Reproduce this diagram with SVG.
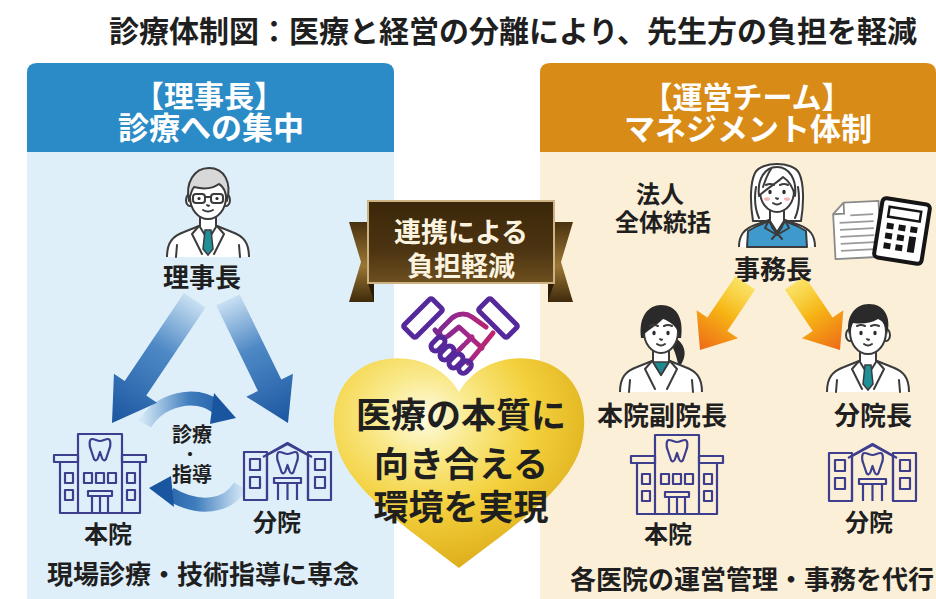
<svg xmlns="http://www.w3.org/2000/svg" width="936" height="599" viewBox="0 0 936 599">
<defs>
<style>
.t{font-family:"Noto Sans CJK JP","Noto Sans CJK SC",sans-serif;font-weight:700;text-anchor:middle;dominant-baseline:central;fill:#1f1f1f}
.w{fill:#ffffff}
.rb{fill:#fbf3df}
.ln{fill:none;stroke:#3b3b3b;stroke-width:2;stroke-linecap:round;stroke-linejoin:round}
.wf{fill:#ffffff;stroke:#3b3b3b;stroke-width:2;stroke-linejoin:round}
.bld{fill:none;stroke:#3d3f8e;stroke-width:2.2;stroke-linejoin:round}
.eye{fill:#2b2b2b}
</style>
<linearGradient id="blueArrow" x1="0" y1="0" x2="0" y2="1">
<stop offset="0" stop-color="#2a6fb8" stop-opacity="0.12"/>
<stop offset="0.4" stop-color="#2a6fb8" stop-opacity="0.8"/>
<stop offset="1" stop-color="#1a559f"/>
</linearGradient>
<linearGradient id="orangeArrow" x1="0" y1="0" x2="0" y2="1">
<stop offset="0" stop-color="#f9d81c" stop-opacity="0.6"/>
<stop offset="0.45" stop-color="#f6b414"/>
<stop offset="1" stop-color="#ee6a18"/>
</linearGradient>
<linearGradient id="cycTop" gradientUnits="userSpaceOnUse" x1="143" y1="0" x2="236" y2="0">
<stop offset="0" stop-color="#2a6fb8" stop-opacity="0.08"/>
<stop offset="0.5" stop-color="#2368b2" stop-opacity="0.85"/>
<stop offset="1" stop-color="#1a559f"/>
</linearGradient>
<linearGradient id="cycBot" gradientUnits="userSpaceOnUse" x1="242" y1="0" x2="149" y2="0">
<stop offset="0" stop-color="#2a6fb8" stop-opacity="0.08"/>
<stop offset="0.5" stop-color="#2368b2" stop-opacity="0.85"/>
<stop offset="1" stop-color="#1a559f"/>
</linearGradient>
<linearGradient id="ribbonBody" x1="0" y1="0" x2="0" y2="1">
<stop offset="0" stop-color="#3a2709"/>
<stop offset="0.6" stop-color="#4c3412"/>
<stop offset="1" stop-color="#6e4f1f"/>
</linearGradient>
<linearGradient id="ribbonTail" x1="0" y1="0" x2="0" y2="1">
<stop offset="0" stop-color="#4a3210"/>
<stop offset="0.55" stop-color="#9a7634"/>
<stop offset="1" stop-color="#3e2a0c"/>
</linearGradient>
<radialGradient id="heartFill" cx="0.36" cy="0.28" r="0.8">
<stop offset="0" stop-color="#fffbe2"/>
<stop offset="0.25" stop-color="#f9e98a"/>
<stop offset="0.55" stop-color="#f3d03c"/>
<stop offset="1" stop-color="#d9a614"/>
</radialGradient>
<linearGradient id="shake" gradientUnits="userSpaceOnUse" x1="405" y1="0" x2="527" y2="0">
<stop offset="0" stop-color="#55299c"/>
<stop offset="0.5" stop-color="#a1288a"/>
<stop offset="1" stop-color="#e41f48"/>
</linearGradient>

<!-- tooth mark shown on the clinic fronts -->
<path id="tooth" d="M-8,-9 C-11,-9 -11,-2 -9,2 C-8,5 -7,8 -6,11 C-5,13 -3,13 -2,10 L0,4 L2,10 C3,13 5,13 6,11 C7,8 8,5 9,2 C11,-2 11,-9 8,-9 C5,-9 3,-7 0,-7 C-3,-7 -5,-9 -8,-9 Z"/>

<!-- main clinic building, 94 x 80 -->
<g id="clinicMain" class="bld">
<rect x="25" y="1" width="44" height="79"/>
<rect x="1" y="22" width="24" height="7"/>
<rect x="69" y="22" width="24" height="7"/>
<path d="M7,29 V80 H87 V29"/>
<rect x="12" y="40" width="8" height="10"/><rect x="12" y="57" width="8" height="10"/>
<rect x="74" y="40" width="8" height="10"/><rect x="74" y="57" width="8" height="10"/>
<rect x="31" y="40" width="8" height="10"/><rect x="43" y="40" width="8" height="10"/><rect x="55" y="40" width="8" height="10"/>
<rect x="35" y="58" width="24" height="5"/>
<path d="M39,63 V80 M47,63 V80 M55,63 V80"/>
<use href="#tooth" transform="translate(47,15)"/>
</g>

<!-- branch clinic building, 89 x 58 -->
<g id="clinicBranch" class="bld">
<rect x="1" y="10" width="23" height="48"/>
<rect x="65" y="10" width="23" height="48"/>
<path d="M24,58 V13 L44.5,2 L65,13 V58"/>
<path d="M20,15 L44.5,1 L69,15"/>
<rect x="7" y="17" width="10" height="11"/><rect x="7" y="35" width="10" height="11"/>
<rect x="72" y="17" width="10" height="11"/><rect x="72" y="35" width="10" height="11"/>
<rect x="31" y="36" width="27" height="5"/>
<path d="M35,41 V58 M44.5,41 V58 M54,41 V58"/>
<use href="#tooth" transform="translate(44.5,19)"/>
</g>

<!-- shared face details -->
<g id="face">
<path class="ln" d="M-11,-6 Q-7,-8 -3,-6 M3,-6 Q7,-8 11,-6"/>
<ellipse class="eye" cx="-7" cy="1" rx="1.7" ry="2.3"/>
<ellipse class="eye" cx="7" cy="1" rx="1.7" ry="2.3"/>
<path class="ln" d="M-1,7 Q0,8.5 1,7.5 M-4,12 Q0,15 4,12"/>
</g>

<!-- white coat body -->
<g id="coat">
<path class="wf" d="M-41,60 C-41,45 -35,39 -24,35 L-9,29 L9,29 L24,35 C35,39 41,45 41,60"/>
<path class="wf" d="M-8,15 V30 L0,43 L8,30 V15 Z"/>
<path class="ln" d="M-9,29 L-16,37 L-6,57 M9,29 L16,37 L6,57 M-31,48 L-32,60 M31,48 L32,60"/>
</g>
</defs>

<rect x="0" y="0" width="936" height="599" fill="#ffffff"/>

<!-- title -->
<g id="title">
<text class="t" x="513" y="29" font-size="30">診療体制図：医療と経営の分離により、先生方の負担を軽減</text>
</g>

<!-- left panel: chairman side -->
<g id="panel-left">
<path d="M27,73 Q27,63 37,63 H384 Q394,63 394,73 V599 H27 Z" fill="#deeffa"/>
<path d="M27,73 Q27,63 37,63 H384 Q394,63 394,73 V152 H27 Z" fill="#2b8bc6"/>
<text class="t w" x="209" y="94" font-size="30">【理事長】</text>
<text class="t w" x="211" y="125" font-size="31">診療への集中</text>
<text class="t" x="203" y="572" font-size="26">現場診療・技術指導に専念</text>
</g>

<!-- right panel: management team side -->
<g id="panel-right">
<path d="M540,73 Q540,63 550,63 H926 Q936,63 936,73 V599 H540 Z" fill="#fcefd7"/>
<path d="M540,73 Q540,63 550,63 H926 Q936,63 936,73 V152 H540 Z" fill="#d98b17"/>
<text class="t w" x="747" y="95" font-size="30">【運営チーム】</text>
<text class="t w" x="748" y="126" font-size="31">マネジメント体制</text>
<text class="t" x="752" y="577" font-size="26">各医院の運営管理・事務を代行</text>
</g>

<!-- connectors -->
<g id="connectors">
<polygon transform="translate(112,423) rotate(34)" points="-13,-148 13,-148 13,-42 26,-42 0,0 -26,-42 -13,-42" fill="url(#blueArrow)"/>
<polygon transform="translate(288,423) rotate(-26)" points="-13,-137 13,-137 13,-42 26,-42 0,0 -26,-42 -13,-42" fill="url(#blueArrow)"/>
<path d="M145,424 C160,399 195,391 217,407" fill="none" stroke="url(#cycTop)" stroke-width="14"/>
<polygon points="236,418 214,393 210,424" fill="#1a559f"/>
<path d="M240,486 C228,507 199,511 170,494" fill="none" stroke="url(#cycBot)" stroke-width="14"/>
<polygon points="149,488 171,476 174,507" fill="#1a559f"/>
<polygon transform="translate(700,350) rotate(34)" points="-12,-81 12,-81 12,-31 25,-31 0,0 -25,-31 -12,-31" fill="url(#orangeArrow)"/>
<polygon transform="translate(840,350) rotate(-34)" points="-12,-81 12,-81 12,-31 25,-31 0,0 -25,-31 -12,-31" fill="url(#orangeArrow)"/>
</g>

<!-- chairman -->
<g id="chairman">
<g transform="translate(208,197)">
<use href="#coat"/>
<path d="M-3,33 L3,33 L5,52 L0,58 L-5,52 Z" fill="#1f8f98" stroke="#3b3b3b" stroke-width="1.5"/>
<ellipse class="wf" cx="-18" cy="3" rx="4" ry="6"/><ellipse class="wf" cx="18" cy="3" rx="4" ry="6"/>
<ellipse class="wf" cx="0" cy="0" rx="18" ry="22"/>
<path d="M-19,4 C-23,-14 -14,-29 1,-29 C16,-29 24,-15 19,4 C18,-5 15,-11 11,-13 C4,-8 -6,-8 -14,-10 C-17,-6 -18,-1 -19,4 Z" fill="#d8d8d8" stroke="#3b3b3b" stroke-width="2" stroke-linejoin="round"/>
<rect class="ln" x="-15" y="-3" width="12" height="9" rx="3"/><rect class="ln" x="3" y="-3" width="12" height="9" rx="3"/>
<path class="ln" d="M-3,0 H3"/>
<circle class="eye" cx="-9" cy="1.5" r="1.6"/><circle class="eye" cx="9" cy="1.5" r="1.6"/>
<path class="ln" d="M-1,8 Q0,9.5 1,8.5 M-5,13 Q0,16 5,13"/>
</g>
<text class="t" x="202" y="275" font-size="26">理事長</text>
</g>

<!-- clinics on the chairman side -->
<g id="main-clinic-left">
<use href="#clinicMain" transform="translate(53,433)"/>
<text class="t" x="108" y="532" font-size="24">本院</text>
</g>
<g id="branch-clinic-left">
<use href="#clinicBranch" transform="translate(243,442)"/>
<text class="t" x="277" y="520" font-size="24">分院</text>
</g>
<g id="cycle-label">
<text class="t" x="192" y="433" font-size="20">診療</text>
<text class="t" x="190" y="453" font-size="16">・</text>
<text class="t" x="192" y="473" font-size="20">指導</text>
</g>

<!-- centre: heart, ribbon, handshake -->
<g id="heart">
<path d="M459,392 C442,362 404,352 374,362 C342,373 328,405 336,442 C346,488 402,524 459,568 C516,524 572,488 582,442 C590,405 576,373 544,362 C514,352 476,362 459,392 Z" fill="url(#heartFill)"/>
<text class="t" x="461" y="412" font-size="35">医療の本質に</text>
<text class="t" x="461" y="461" font-size="35">向き合える</text>
<text class="t" x="461" y="504" font-size="35">環境を実現</text>
</g>

<g id="ribbon">
<path d="M349,222 H374 V302 H349 L361,262 Z" fill="url(#ribbonTail)"/>
<path d="M573,222 H548 V302 H573 L561,262 Z" fill="url(#ribbonTail)"/>
<path d="M368,283 L374,283 L374,302 Z" fill="#2a1b06"/>
<path d="M554,283 L548,283 L548,302 Z" fill="#2a1b06"/>
<rect x="368" y="201" width="186" height="82" fill="url(#ribbonBody)" stroke="#cdb384" stroke-width="2"/>
<text class="t rb" x="461" y="230" font-size="27">連携による</text>
<text class="t rb" x="461" y="264" font-size="27">負担軽減</text>
</g>

<g id="handshake" fill="none" stroke="url(#shake)" stroke-width="5" stroke-linecap="round" stroke-linejoin="round">
<rect x="-20" y="-8.5" width="40" height="17" rx="2" transform="translate(423,318) rotate(-45)"/>
<rect x="-20" y="-8.5" width="40" height="17" rx="2" transform="translate(498,318) rotate(45)"/>
<path d="M486,327 L472,317 C466,313 458,313 452,318 L441,329 C437,334 442,340 448,336 L459,327 L482,348"/>
<path d="M472,337 L466,343 M464,345 L458,351"/>
<path d="M493,333 L480,349 C476,354 472,359 468,363"/>
<path d="M435,330 L441,337"/>
<rect x="-8" y="-4.5" width="16" height="9" rx="4.5" transform="translate(438,344) rotate(-45)"/>
<rect x="-8" y="-4.5" width="16" height="9" rx="4.5" transform="translate(447,353) rotate(-45)"/>
<rect x="-8" y="-4.5" width="16" height="9" rx="4.5" transform="translate(456,361) rotate(-45)"/>
<rect x="-7" y="-4.5" width="14" height="9" rx="4.5" transform="translate(465,367) rotate(-45)"/>
</g>

<!-- office manager -->
<g id="manager">
<g transform="translate(777,191)">
<path class="wf" d="M-24,30 C-27,12 -27,-8 -22,-18 C-16,-30 16,-30 22,-18 C27,-8 27,12 24,30 Z"/>
<path class="wf" d="M-38,56 C-38,44 -33,38 -22,34 L-8,29 L8,29 L22,34 C33,38 38,44 38,56"/>
<path d="M-30,56 L-29,40 L-20,35 L-8,30 L0,44 L8,30 L20,35 L29,40 L30,56 Z" fill="#3d9acb" stroke="#3b3b3b" stroke-width="2" stroke-linejoin="round"/>
<path class="wf" d="M-7,15 V30 L0,41 L7,30 V15 Z"/>
<path class="ln" d="M-8,29 L-12,37 L0,44 L12,37 L8,29 M-5,36 L5,48 M5,36 L-5,48"/>
<ellipse class="wf" cx="0" cy="0" rx="17" ry="21"/>
<path class="wf" d="M-18,5 C-20,-12 -12,-24 0,-24 C12,-24 20,-12 18,5 C16,-4 12,-10 6,-14 C0,-8 -10,-3 -18,5 Z"/>
<path class="ln" d="M-21,-4 C-23,8 -22,18 -18,27 M21,-4 C23,8 22,18 18,27 M-6,-22 C-10,-16 -12,-10 -14,-4"/>
<use href="#face"/>
<ellipse cx="-10" cy="8" rx="3" ry="1.8" fill="#f4b6b0"/><ellipse cx="10" cy="8" rx="3" ry="1.8" fill="#f4b6b0"/>
</g>
<text class="t" x="773" y="267" font-size="26">事務長</text>
</g>

<g id="corporate-label">
<text class="t" x="660" y="192" font-size="24">法人</text>
<text class="t" x="663" y="220" font-size="24">全体統括</text>
</g>

<!-- paperwork: document and calculator -->
<g id="paperwork">
<g transform="translate(857,230) rotate(-3)">
<path d="M-12,-28 H23 V28 H-23 V-17 Z" fill="#ffffff" stroke="#8a8a8a" stroke-width="1.8" stroke-linejoin="round"/>
<path d="M-12,-28 V-17 H-23" fill="none" stroke="#8a8a8a" stroke-width="1.8"/>
<path d="M-17,-8 H17 M-17,-1 H17 M-17,6 H17 M-17,13 H17 M-17,20 H17 M-6,-15 H17" stroke="#9a9a9a" stroke-width="1.6"/>
</g>
<g transform="translate(902,231) rotate(9)">
<rect x="-24" y="-30" width="48" height="60" rx="4" fill="#ffffff" stroke="#151515" stroke-width="4"/>
<rect x="-16" y="-22" width="32" height="10" fill="#ffffff" stroke="#151515" stroke-width="2.5"/>
<rect x="-16" y="-6" width="7" height="6" fill="#151515"/><rect x="-4" y="-6" width="7" height="6" fill="#151515"/><rect x="8" y="-6" width="7" height="6" fill="#151515"/>
<rect x="-16" y="4" width="7" height="6" fill="#151515"/><rect x="-4" y="4" width="7" height="6" fill="#151515"/><rect x="8" y="4" width="7" height="16" fill="#151515"/>
<rect x="-16" y="14" width="7" height="6" fill="#151515"/><rect x="-4" y="14" width="7" height="6" fill="#151515"/>
</g>
</g>

<!-- vice director of the main clinic -->
<g id="vice-director">
<g transform="translate(661,332)">
<path d="M-20,6 C-23,-16 -12,-27 0,-27 C14,-27 23,-16 20,6 Z" fill="#2a2a2a"/>
<path d="M14,6 C25,12 27,25 18,35 C16,28 15,22 12,16 Z" fill="#2a2a2a"/>
<use href="#coat"/>
<path d="M-8,30 L0,43 L8,30 Z" fill="#1f8a90" stroke="#3b3b3b" stroke-width="1.5"/>
<ellipse class="wf" cx="0" cy="0" rx="17" ry="21"/>
<path d="M-18,3 C-20,-14 -10,-24 2,-24 C14,-24 20,-14 18,1 C14,-7 8,-11 2,-13 C-4,-7 -11,-3 -18,3 Z" fill="#2a2a2a"/>
<use href="#face"/>
</g>
<text class="t" x="662" y="413" font-size="26">本院副院長</text>
</g>

<!-- branch director -->
<g id="branch-director">
<g transform="translate(868,332)">
<use href="#coat"/>
<path d="M-3,33 L3,33 L5,52 L0,58 L-5,52 Z" fill="#1f8f98" stroke="#3b3b3b" stroke-width="1.5"/>
<ellipse class="wf" cx="-18" cy="3" rx="4" ry="6"/><ellipse class="wf" cx="18" cy="3" rx="4" ry="6"/>
<ellipse class="wf" cx="0" cy="0" rx="18" ry="22"/>
<path d="M-19,3 C-23,-15 -13,-28 1,-28 C16,-28 24,-15 19,3 C18,-6 15,-11 10,-13 C2,-8 -8,-8 -15,-9 C-17,-5 -18,-1 -19,3 Z" fill="#2a2a2a"/>
<use href="#face"/>
</g>
<text class="t" x="873" y="413" font-size="26">分院長</text>
</g>

<!-- clinics on the management side -->
<g id="main-clinic-right">
<use href="#clinicMain" transform="translate(630,434)"/>
<text class="t" x="668" y="532" font-size="24">本院</text>
</g>
<g id="branch-clinic-right">
<use href="#clinicBranch" transform="translate(828,443)"/>
<text class="t" x="869" y="520" font-size="24">分院</text>
</g>
</svg>
